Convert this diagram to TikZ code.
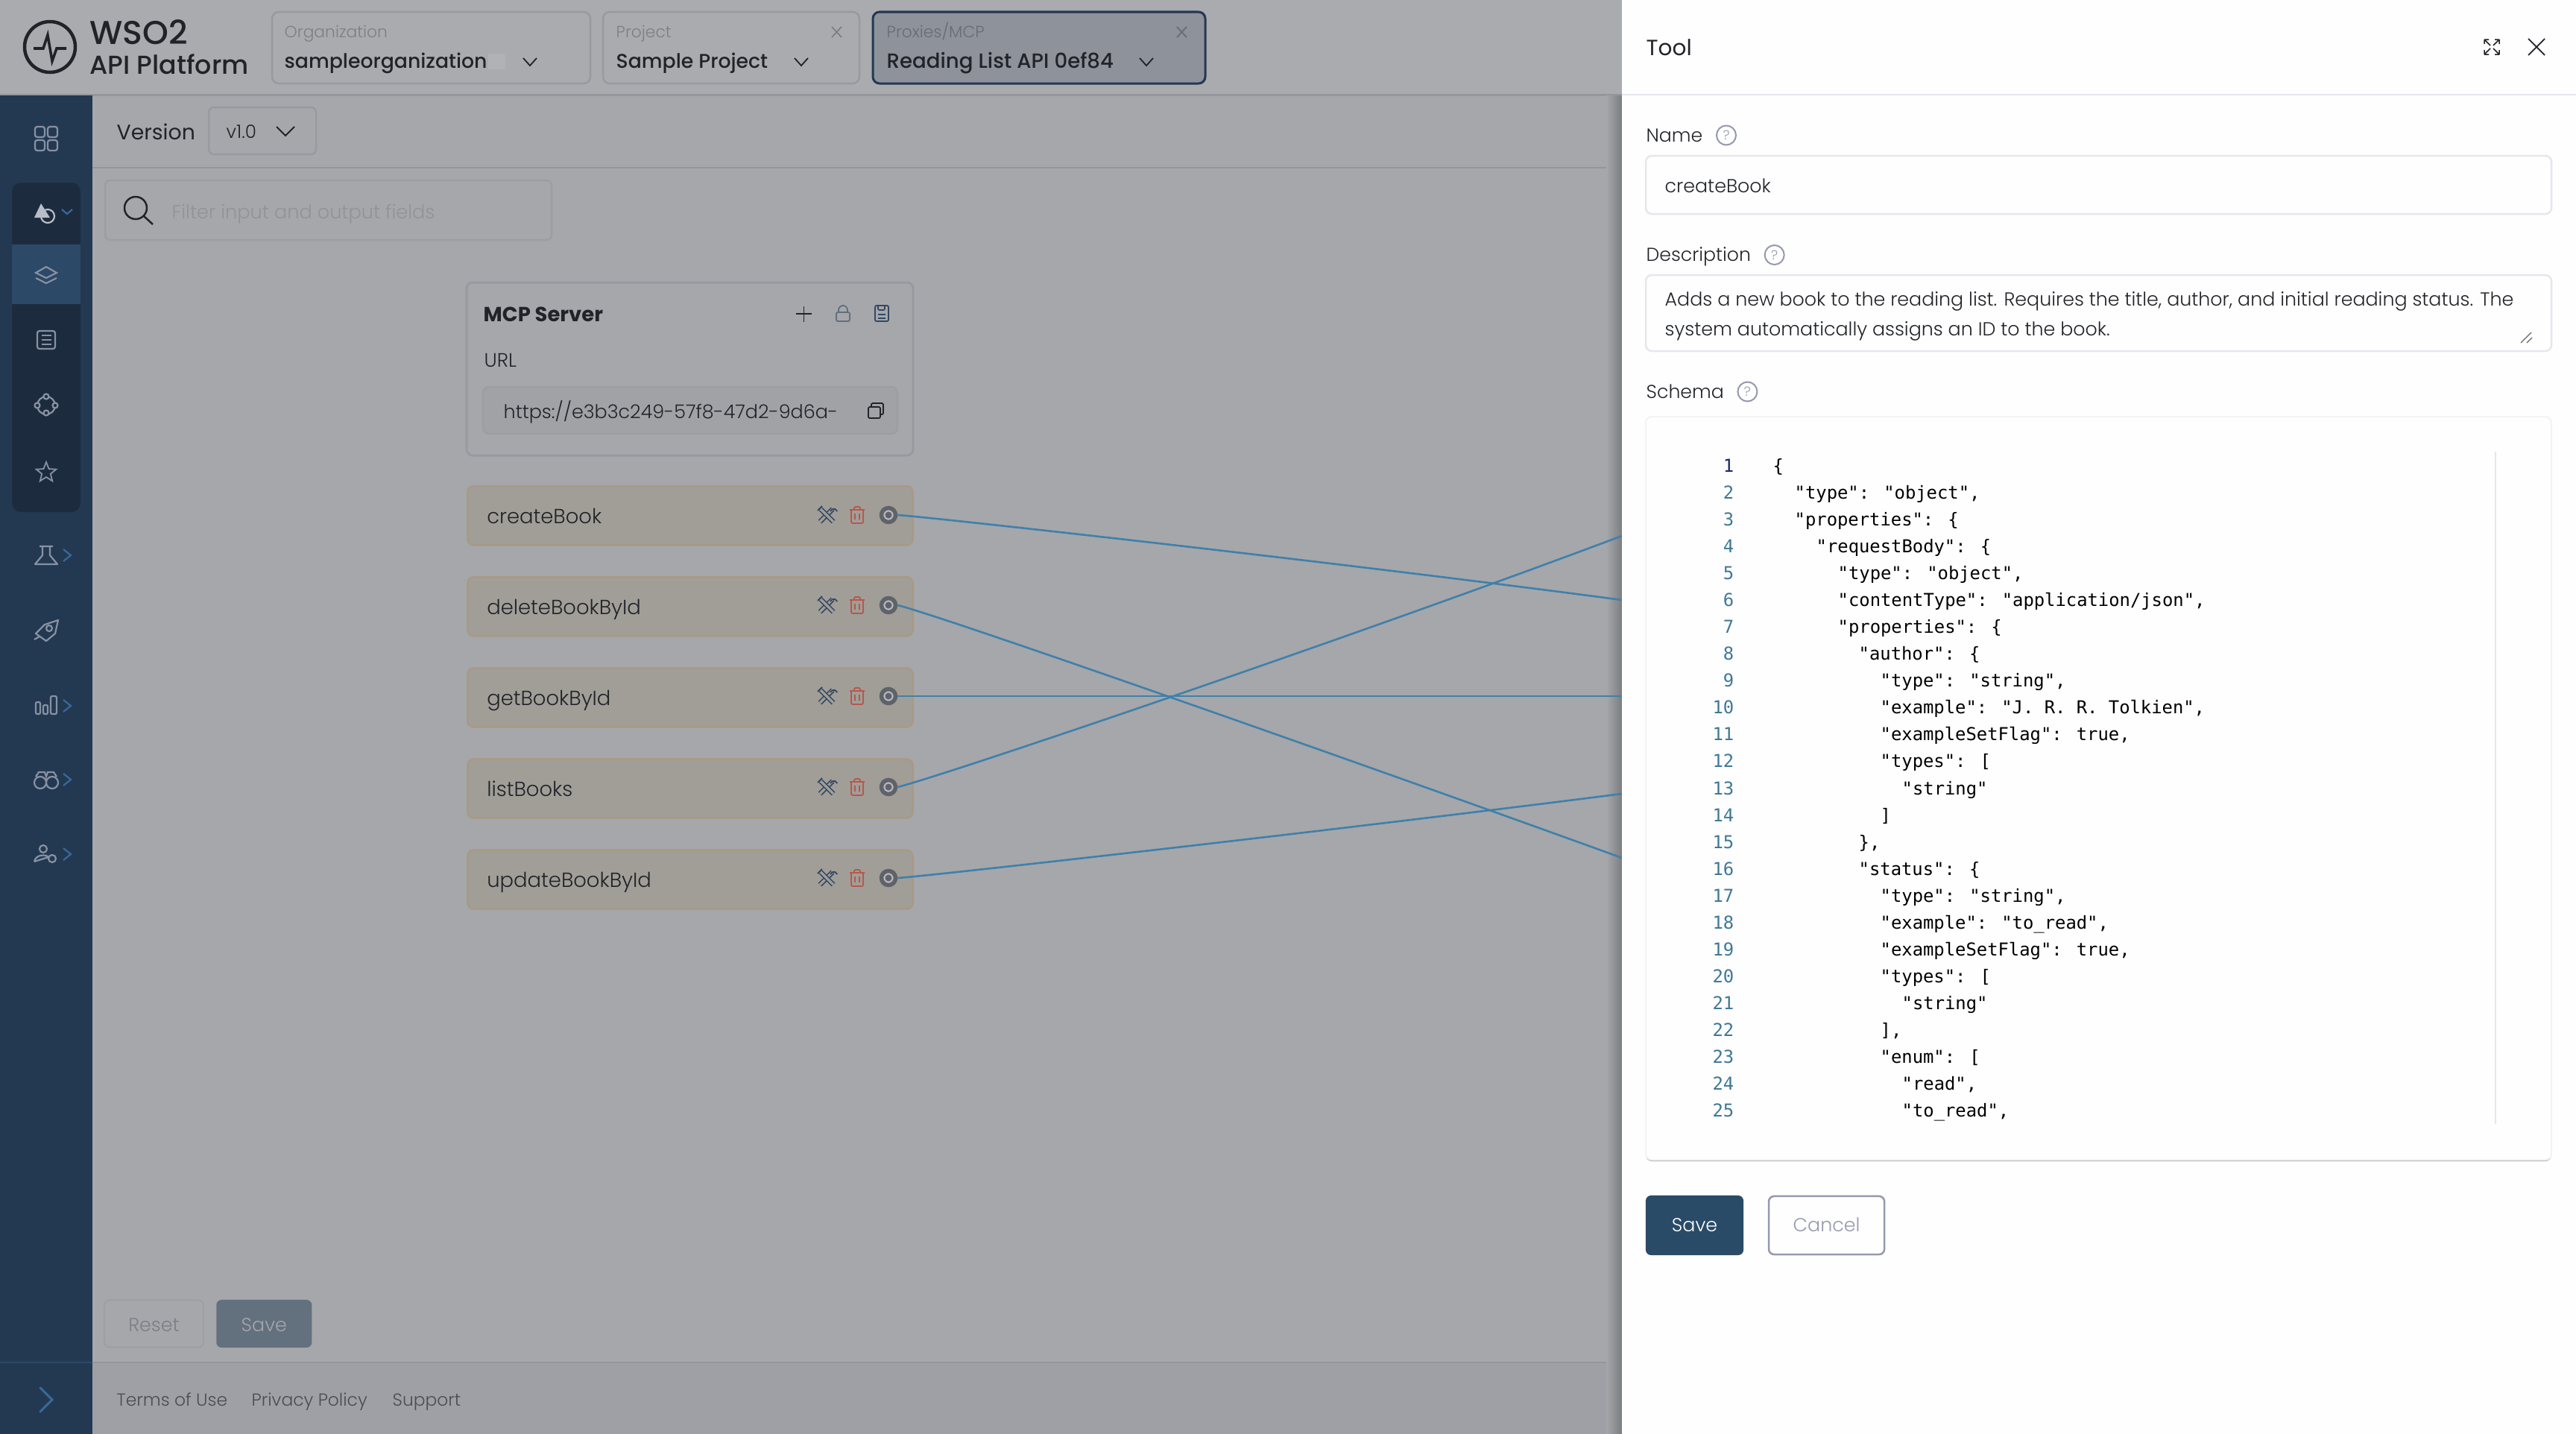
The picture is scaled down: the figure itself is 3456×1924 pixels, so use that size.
\documentclass[tikz,border=0pt]{standalone}
\usepackage{fontspec}
\setmainfont{Poppins}
\newfontfamily\lightfont{Poppins Light}
\newfontfamily\medfont{Poppins Medium}
\newfontfamily\codefont{DejaVu Sans Mono}
\usetikzlibrary{shapes.geometric, arrows.meta, positioning, calc}
\definecolor{bgmain}{RGB}{165, 167, 171}
\definecolor{bghead}{RGB}{169, 171, 174}
\definecolor{bgfoot}{RGB}{159, 160, 165}
\definecolor{rulegray}{RGB}{148, 150, 156}
\definecolor{boxline}{RGB}{152, 154, 160}
\definecolor{sidenavy}{RGB}{35, 57, 82}
\definecolor{groupnavy}{RGB}{28, 44, 62}
\definecolor{selnavy}{RGB}{44, 73, 103}
\definecolor{iconline}{RGB}{136, 145, 162}
\definecolor{chevblue}{RGB}{58, 104, 152}
\definecolor{inktext}{RGB}{33, 35, 40}
\definecolor{dimtext}{RGB}{125, 127, 133}
\definecolor{fainttext}{RGB}{145, 147, 151}
\definecolor{proxyfill}{RGB}{141, 146, 155}
\definecolor{rowfill}{RGB}{161, 158, 152}
\definecolor{rowline}{RGB}{168, 154, 132}
\definecolor{wireblue}{RGB}{64, 128, 170}
\definecolor{eyegray}{RGB}{96, 98, 105}
\definecolor{eyepale}{RGB}{182, 185, 192}
\definecolor{trashred}{RGB}{182, 88, 76}
\definecolor{toolnavy}{RGB}{52, 72, 98}
\definecolor{panelwhite}{RGB}{254, 254, 254}
\definecolor{fieldline}{RGB}{230, 230, 238}
\definecolor{helpgray}{RGB}{150, 152, 175}
\definecolor{btnnavy}{RGB}{42, 75, 104}
\definecolor{btnfaded}{RGB}{99, 112, 126}
\definecolor{linenum}{RGB}{62, 120, 150}
\definecolor{linefirst}{RGB}{24, 40, 110}
\tikzset{
    txt/.style={anchor=west, inner sep=0pt, text height=0.75em, text depth=0.25em},
    toplabel/.style={txt, font=\lightfont\fontsize{6.2}{8}\selectfont, text=dimtext},
    topvalue/.style={txt, font=\medfont\fontsize{7.6}{10}\selectfont, text=inktext},
    fieldlabel/.style={txt, font=\lightfont\fontsize{7.15}{10}\selectfont, text=inktext},
    fieldtext/.style={txt, font=\lightfont\fontsize{7.2}{10}\selectfont, text=inktext},
    foottext/.style={txt, font=\lightfont\fontsize{6.65}{9}\selectfont, text=dimtext!60!black},
    code/.style={txt, font=\codefont\fontsize{6.78}{9}\selectfont, text=black},
    lineno/.style={txt, anchor=east, font=\codefont\fontsize{6.78}{9}\selectfont, text=linenum},
    toolrow/.style={rectangle, draw=rowline, fill=rowfill, rounded corners=0.08cm, line width=0.025cm,
        minimum height=0.79cm, text width=5.45cm, inner xsep=0.26cm, inner ysep=0pt, align=left,
        text height=0.8em, text depth=0.2em,
        font=\lightfont\fontsize{7.8}{10}\selectfont, text=inktext},
    eyering/.style={circle, draw=eyegray, fill=eyepale, line width=0.055cm, minimum size=0.19cm, inner sep=0pt},
    helpmark/.style={circle, draw=helpgray, line width=0.02cm, minimum size=0.26cm, inner sep=0pt,
        font=\lightfont\fontsize{5}{6}\selectfont, text=helpgray},
    button/.style={rectangle, rounded corners=0.07cm, inner sep=0pt, font=\lightfont\fontsize{7.2}{9}\selectfont},
    wire/.style={draw=wireblue, line width=0.026cm},
    ico/.style={draw=iconline, line width=0.022cm},
    chev/.style={draw=chevblue, line width=0.022cm},
    thinico/.style={draw=inktext, line width=0.018cm},
    pics/wrench/.style={code={
        \draw[draw=toolnavy, line width=0.016cm, double=rowfill, double distance=0.035cm] (-9,9) -- (8,-8);
        \draw[draw=toolnavy, line width=0.016cm, double=rowfill, double distance=0.035cm] (-8,-8) -- (9,9);
        \draw[draw=toolnavy, line width=0.018cm] (-12,-6) -- (-6,-12) (5,-5) arc (200:340:5);
    }},
    pics/trash/.style={code={
        \draw[draw=trashred, line width=0.018cm, rounded corners=0.02cm] (-10,-7) -- (10,-7) (-4,-7) -- (-4,-11) -- (4,-11) -- (4,-7)
            (-8,-7) -- (-8,11) -- (8,11) -- (8,-7) (-3,-2) -- (-3,6) (3,-2) -- (3,6);
    }}
}

\begin{document}
\begin{tikzpicture}[x=0.01cm, y=-0.01cm]
\useasboundingbox (0,0) rectangle (3456,1924);

% Backgrounds
\fill[bgmain] (0,0) rectangle (2176,1924);
\fill[bghead] (0,0) rectangle (2176,127);
\fill[bgfoot] (124,1828) rectangle (2176,1924);
\draw[rulegray, line width=0.03cm] (0,127) -- (2176,127);
\draw[rulegray, line width=0.02cm] (124,225) -- (2176,225);
\draw[rulegray, line width=0.02cm] (124,1828) -- (2176,1828);
\shade[left color=bgmain, right color=bgmain!75!black] (2155,128) rectangle (2176,1924);

% Sidebar
\fill[sidenavy] (0,128) rectangle (124,1924);
\draw[selnavy, line width=0.02cm] (0,1828) -- (124,1828);
\fill[groupnavy, rounded corners=0.12cm] (16,245) rectangle (108,687);
\fill[selnavy] (16,328) rectangle (108,408);

% Sidebar icons
\draw[ico, rounded corners=0.03cm] (47,170) rectangle (60,184) (64,170) rectangle (77,184) (47,188) rectangle (60,202) (64,188) rectangle (77,202);
\fill[iconline!60!white] (55,273) -- (67,292) -- (46,292) -- cycle;
\draw[ico, draw=iconline!60!white] (64,290) circle (9);
\draw[chev] (83,281) -- (90,287) -- (97,281);
\draw[ico] (62,358) -- (76,366) -- (62,373) -- (48,366) -- cycle (48,373) -- (62,380) -- (76,373);
\draw[ico, rounded corners=0.03cm] (50,444) rectangle (74,468);
\draw[ico] (56,450) -- (69,450) (56,456) -- (69,456) (56,462) -- (69,462);
\draw[ico] (62,544) circle (12);
\filldraw[ico, fill=groupnavy] (62,532) circle (3.5) (50,544) circle (3.5) (62,554) circle (3.5) (74,544) circle (3.5);
\node[star, star points=5, star point ratio=2.3, ico, line width=0.018cm, minimum size=0.28cm, inner sep=0pt] (favstar) at (62,634) {};
\draw[ico, line join=round] (53,733) -- (71,733) (57,733) -- (57,745) -- (47,757) -- (77,757) -- (67,745) -- (67,733);
\draw[ico, line join=round] (48,850) -- (60,838) -- (78,832) -- (74,850) -- (62,860) -- cycle (46,858) -- (53,854) (66,843) circle (4);
\draw[ico, rounded corners=0.02cm] (48,942) rectangle (54,958) (58,946) rectangle (64,958) (68,934) rectangle (76,958);
\draw[ico] (54,1050) circle (8) (70,1050) circle (8) (62,1046) -- (62,1050) (48,1042) -- (52,1036) -- (60,1036) -- (62,1042) -- (64,1036) -- (72,1036) -- (76,1042);
\draw[ico] (58,1139) circle (5) (46,1156) .. controls (48,1146) and (62,1146) .. (65,1150) -- (46,1156) (70,1152) circle (5);
\foreach \yy in {745,947,1046,1146}
    \draw[chev] (85,\yy-8) -- (95,\yy) -- (85,\yy+8);
\draw[chev, line width=0.03cm, line cap=round] (54,1862) -- (70,1878) -- (54,1894);

% Header
\draw[inktext, line width=0.045cm] (67,63) circle (34);
\draw[inktext, line width=0.035cm] (45,65) -- (58,65) -- (64,47) -- (70,82) -- (76,65) -- (89,65);
\node[txt, font=\medfont\fontsize{12.6}{14}\selectfont, text=inktext] (brand) at (120,51) {WSO2};
\node[txt, font=\medfont\fontsize{9.9}{12}\selectfont, text=inktext] (platform) at (120,91) {API Platform};

\draw[boxline, line width=0.025cm, rounded corners=0.09cm] (365,16) rectangle (792,112);
\node[toplabel] (orglabel) at (381,42) {Organization};
\node[topvalue] (orgvalue) at (381,83) {sampleorganization};
\fill[bghead!92!white] (655,72) rectangle (678,93);
\draw[thinico] (702,78) -- (711,88) -- (720,78);

\draw[boxline, line width=0.025cm, rounded corners=0.09cm] (809,16) rectangle (1153,112);
\node[toplabel] (projlabel) at (826,42) {Project};
\node[topvalue] (projvalue) at (826,83) {Sample Project};
\draw[thinico] (1066,78) -- (1075,88) -- (1084,78);
\draw[thinico, draw=dimtext] (1116,36) -- (1129,50) (1129,36) -- (1116,50);

\draw[sidenavy, fill=proxyfill, line width=0.03cm, rounded corners=0.09cm] (1171,16) rectangle (1617,112);
\node[toplabel, text=dimtext!85!black] (proxylabel) at (1189,42) {Proxies/MCP};
\node[topvalue, font=\medfont\fontsize{7.85}{10}\selectfont] (proxyvalue) at (1189,83) {Reading List API 0ef84};
\draw[thinico] (1529,78) -- (1538,88) -- (1547,78);
\draw[thinico, draw=dimtext!85!black] (1579,36) -- (1592,50) (1592,36) -- (1579,50);

% Version bar and search
\node[txt, font=\fontsize{8.05}{10}\selectfont, text=inktext] (version) at (156,179) {Version};
\draw[boxline, line width=0.025cm, rounded corners=0.07cm] (280,144) rectangle (424,207);
\node[txt, font=\lightfont\fontsize{7}{9}\selectfont, text=inktext] (vernum) at (303,177) {v1.0};
\draw[thinico] (371,170) -- (383,182) -- (395,170);
\draw[boxline!70!bgmain, line width=0.025cm, rounded corners=0.07cm] (141,242) rectangle (740,322);
\draw[thinico, line width=0.025cm] (182,279) circle (15) (193,290) -- (205,301);
\node[txt, font=\lightfont\fontsize{7.28}{10}\selectfont, text=fainttext] (filter) at (230,285) {Filter input and output fields};

% MCP Server card
\draw[boxline, line width=0.03cm, rounded corners=0.08cm] (626,379) rectangle (1225,611);
\node[txt, font=\bfseries\fontsize{7.8}{10}\selectfont, text=inktext] (mcptitle) at (648,423) {MCP Server};
\node[txt, font=\lightfont\fontsize{7.4}{10}\selectfont, text=inktext] (urllabel) at (649,484) {URL};
\draw[boxline!70!bgmain, line width=0.025cm, fill=bgmain!97!black, rounded corners=0.08cm] (648,519) rectangle (1204,582);
\node[txt, font=\lightfont\fontsize{7.22}{10}\selectfont, text=inktext] (urltext) at (675,553) {https://e3b3c249-57f8-47d2-9d6a-};
\draw[thinico, rounded corners=0.02cm] (1165,546) rectangle (1181,561) (1169,546) -- (1169,541) -- (1185,541) -- (1185,556) -- (1181,556);
\draw[thinico] (1068,421) -- (1089,421) (1078.5,411) -- (1078.5,432);
\draw[thinico, draw=toolnavy!60!bgmain, rounded corners=0.02cm] (1122,419) rectangle (1140,431);
\draw[thinico, draw=toolnavy!60!bgmain] (1125,419) -- (1125,416) arc (180:360:6) -- (1137,419);
\draw[thinico, draw=toolnavy, rounded corners=0.02cm] (1174,410) rectangle (1192,431) (1178,410) -- (1178,416) -- (1187,416) -- (1187,410) (1178,422) -- (1188,422) (1178,427) -- (1188,427);

% Tools
\node[toolrow, anchor=north west] (createbook) at (626,651) {createBook};
\node[toolrow, below=0.405cm of createbook] (deletebook) {deleteBookById};
\node[toolrow, below=0.405cm of deletebook] (getbook) {getBookById};
\node[toolrow, below=0.405cm of getbook] (listbooks) {listBooks};
\node[toolrow, below=0.405cm of listbooks] (updatebook) {updateBookById};

\pic at (1109,691) {wrench};
\pic at (1109,812) {wrench};
\pic at (1109,934) {wrench};
\pic at (1109,1056) {wrench};
\pic at (1109,1178) {wrench};
\pic at (1150,691) {trash};
\pic at (1150,812) {trash};
\pic at (1150,934) {trash};
\pic at (1150,1056) {trash};
\pic at (1150,1178) {trash};

\node[eyering] (eyecreate) at (1192,691) {};
\node[eyering] (eyedelete) at (1192,812) {};
\node[eyering] (eyeget) at (1192,934) {};
\node[eyering] (eyelist) at (1192,1056) {};
\node[eyering] (eyeupdate) at (1192,1178) {};
\fill[eyegray] (eyecreate) circle (4.5) (eyedelete) circle (4.5) (eyeget) circle (4.5) (eyelist) circle (4.5) (eyeupdate) circle (4.5);

% Free ends at the panel edge
\coordinate (endcreate) at (2176,805);
\coordinate (enddelete) at (2176,1151);
\coordinate (endget) at (2176,934);
\coordinate (endlist) at (2176,719);
\coordinate (endupdate) at (2176,1065);

% Connectors
\draw[wire] (eyecreate.east) .. controls (1250,694) and (1800,755) .. (endcreate);
\draw[wire] (eyedelete.east) .. controls (1262,826) and (1806,1017) .. (enddelete);
\draw[wire] (eyeget.east) -- (endget);
\draw[wire] (eyelist.east) .. controls (1262,1042) and (1806,858) .. (endlist);
\draw[wire] (eyeupdate.east) .. controls (1250,1175) and (1800,1113) .. (endupdate);

% Page footer
\node[button, draw=boxline!60!bgmain, line width=0.02cm, minimum width=1.33cm, minimum height=0.63cm, text=dimtext, text height=0.75em, text depth=0.15em] (resetbtn) at (206.5,1776) {Reset};
\node[button, fill=btnfaded, right=0.155cm of resetbtn, minimum width=1.28cm, minimum height=0.64cm, text=bgmain, text height=0.75em, text depth=0.15em] (savefaded) {Save};
\node[foottext] (terms) at (156,1878) {Terms of Use};
\node[foottext] (privacy) at (337,1878) {Privacy Policy};
\node[foottext] (support) at (526,1878) {Support};

% Panel
\fill[panelwhite] (2176,0) rectangle (3456,1924);
\draw[fieldline, line width=0.025cm] (2176,127) -- (3456,127);
\node[txt, font=\fontsize{8.4}{10}\selectfont, text=inktext] (paneltitle) at (2208,66) {Tool};
\draw[thinico, line width=0.015cm] (3333,53) -- (3341,61) (3333,53) -- (3339,53) (3333,53) -- (3333,59)
    (3353,53) -- (3345,61) (3353,53) -- (3347,53) (3353,53) -- (3353,59)
    (3333,73) -- (3341,65) (3333,73) -- (3339,73) (3333,73) -- (3333,67)
    (3353,73) -- (3345,65) (3353,73) -- (3347,73) (3353,73) -- (3353,67);
\draw[thinico] (3392,52) -- (3414,74) (3414,52) -- (3392,74);

\node[fieldlabel] (namelabel) at (2208,181.5) {Name};
\node[helpmark, right=0.17cm of namelabel] (namehelp) {?};
\node[fieldlabel] (desclabel) at (2208,342) {Description};
\node[helpmark, right=0.17cm of desclabel] (deschelp) {?};
\node[fieldlabel] (schemalabel) at (2208,525.5) {Schema};
\node[helpmark, right=0.17cm of schemalabel] (schemahelp) {?};

\draw[fieldline, line width=0.025cm, rounded corners=0.08cm] (2208,209) rectangle (3423,287);
\node[fieldtext] (namevalue) at (2233,250) {createBook};
\draw[fieldline, line width=0.025cm, rounded corners=0.08cm] (2208,369) rectangle (3423,471);
\node[fieldtext] (descone) at (2233,402) {Adds a new book to the reading list. Requires the title, author, and initial reading status. The};
\node[fieldtext] (desctwo) at (2233,442) {system automatically assigns an ID to the book.};
\draw[inktext!70!white, line width=0.012cm] (3382,460) -- (3396,446) (3390,460) -- (3397,453);

% Schema editor
\fill[gray!60, rounded corners=0.08cm] (2208,1500) rectangle (3423,1558);
\draw[fieldline!50!white, fill=panelwhite, line width=0.02cm, rounded corners=0.08cm] (2208,559) rectangle (3423,1556);
\draw[fieldline, line width=0.012cm] (3348,606) -- (3348,1508);

\node[lineno, text=linefirst] (n1) at (2327,625) {1};
\node[lineno] (n2) at (2327,661) {2};
\node[lineno] (n3) at (2327,697) {3};
\node[lineno] (n4) at (2327,733) {4};
\node[lineno] (n5) at (2327,769) {5};
\node[lineno] (n6) at (2327,805) {6};
\node[lineno] (n7) at (2327,841) {7};
\node[lineno] (n8) at (2327,877) {8};
\node[lineno] (n9) at (2327,913) {9};
\node[lineno] (n10) at (2327,949) {10};
\node[lineno] (n11) at (2327,985) {11};
\node[lineno] (n12) at (2327,1021) {12};
\node[lineno] (n13) at (2327,1058) {13};
\node[lineno] (n14) at (2327,1094) {14};
\node[lineno] (n15) at (2327,1130) {15};
\node[lineno] (n16) at (2327,1166) {16};
\node[lineno] (n17) at (2327,1202) {17};
\node[lineno] (n18) at (2327,1238) {18};
\node[lineno] (n19) at (2327,1274) {19};
\node[lineno] (n20) at (2327,1310) {20};
\node[lineno] (n21) at (2327,1346) {21};
\node[lineno] (n22) at (2327,1382) {22};
\node[lineno] (n23) at (2327,1418) {23};
\node[lineno] (n24) at (2327,1454) {24};
\node[lineno] (n25) at (2327,1490) {25};

\node[code] (c1) at (2378,625) {\{};
\node[code] (c2) at (2407,661) {"type": "object",};
\node[code] (c3) at (2407,697) {"properties": \{};
\node[code] (c4) at (2436,733) {"requestBody": \{};
\node[code] (c5) at (2465,769) {"type": "object",};
\node[code] (c6) at (2465,805) {"contentType": "application/json",};
\node[code] (c7) at (2465,841) {"properties": \{};
\node[code] (c8) at (2493,877) {"author": \{};
\node[code] (c9) at (2522,913) {"type": "string",};
\node[code] (c10) at (2522,949) {"example": "J. R. R. Tolkien",};
\node[code] (c11) at (2522,985) {"exampleSetFlag": true,};
\node[code] (c12) at (2522,1021) {"types": [};
\node[code] (c13) at (2551,1058) {"string"};
\node[code] (c14) at (2522,1094) {]};
\node[code] (c15) at (2493,1130) {\},};
\node[code] (c16) at (2493,1166) {"status": \{};
\node[code] (c17) at (2522,1202) {"type": "string",};
\node[code] (c18) at (2522,1238) {"example": "to\_read",};
\node[code] (c19) at (2522,1274) {"exampleSetFlag": true,};
\node[code] (c20) at (2522,1310) {"types": [};
\node[code] (c21) at (2551,1346) {"string"};
\node[code] (c22) at (2522,1382) {],};
\node[code] (c23) at (2522,1418) {"enum": [};
\node[code] (c24) at (2551,1454) {"read",};
\node[code] (c25) at (2551,1490) {"to\_read",};

% Panel buttons
\node[button, fill=btnnavy, text=white, minimum width=1.31cm, minimum height=0.8cm, text height=0.7em, text depth=0.2em] (savebtn) at (2273.5,1644) {Save};
\node[button, draw=helpgray, line width=0.025cm, text=helpgray, right=0.32cm of savebtn, minimum width=1.55cm, minimum height=0.78cm, text height=0.7em, text depth=0.2em] (cancelbtn) {Cancel};

\end{tikzpicture}
\end{document}
